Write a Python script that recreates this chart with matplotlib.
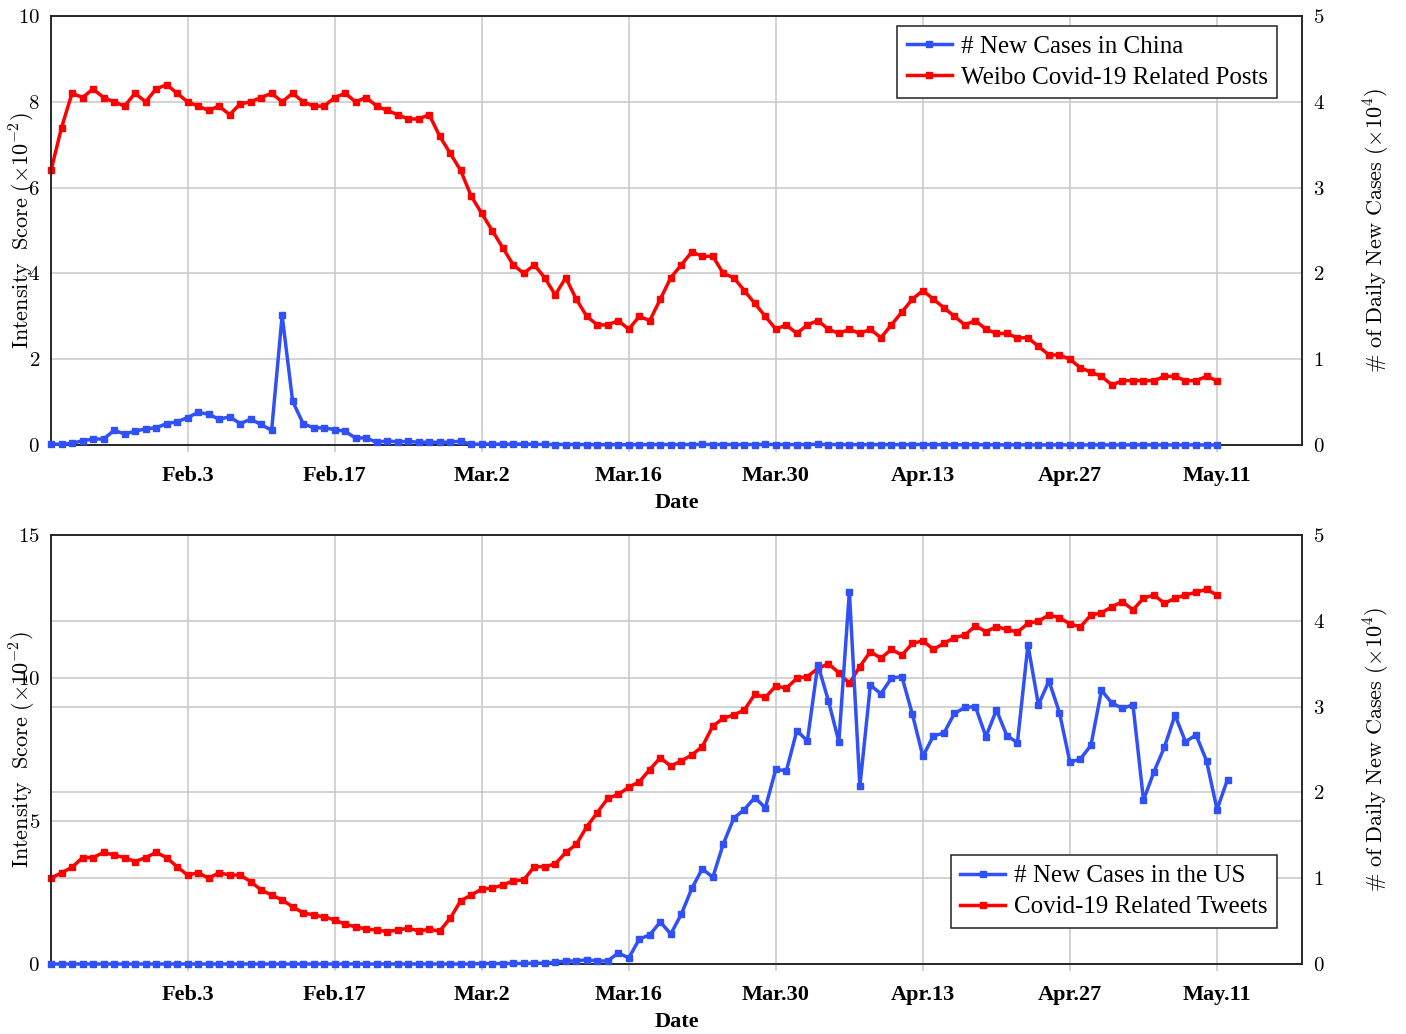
import numpy as np
import pandas as pd
import matplotlib
matplotlib.use("Agg")
import matplotlib.pyplot as plt
from matplotlib.ticker import FuncFormatter

plt.rcParams["font.family"] = "serif"
plt.rcParams["font.serif"] = ["Liberation Serif", "DejaVu Serif"]
plt.rcParams["mathtext.fontset"] = "cm"

# ============================================================
# DATA (one value per day, starting Jan 21)
# ============================================================
start = pd.Timestamp("2020-01-21")

# Weibo intensity score (x1e-2), Jan 21 - May 11
weibo_posts = [
    6.4, 7.4, 8.2, 8.1, 8.3, 8.1, 8.0, 7.9, 8.2, 8.0, 8.3, 8.4, 8.2, 8.0,
    7.9, 7.8, 7.9, 7.7, 7.95, 8.0, 8.1, 8.2, 8.0, 8.2, 8.0, 7.9, 7.9, 8.1,
    8.2, 8.0, 8.1, 7.9, 7.8, 7.7, 7.6, 7.6, 7.7, 7.2, 6.8, 6.4, 5.8, 5.4,
    5.0, 4.6, 4.2, 4.0, 4.2, 3.9, 3.5, 3.9, 3.4, 3.0, 2.8, 2.8, 2.9, 2.7,
    3.0, 2.9, 3.4, 3.9, 4.2, 4.5, 4.4, 4.4, 4.0, 3.9, 3.6, 3.3, 3.0, 2.7,
    2.8, 2.6, 2.8, 2.9, 2.7, 2.6, 2.7, 2.6, 2.7, 2.5, 2.8, 3.1, 3.4, 3.6,
    3.4, 3.2, 3.0, 2.8, 2.9, 2.7, 2.6, 2.6, 2.5, 2.5, 2.3, 2.1, 2.1, 2.0,
    1.8, 1.7, 1.6, 1.4, 1.5, 1.5, 1.5, 1.5, 1.6, 1.6, 1.5, 1.5, 1.6, 1.5,
]

# new cases in China (x1e4), Jan 21 - May 11
china_cases = [
    0.01, 0.01, 0.02, 0.05, 0.07, 0.07, 0.17, 0.13, 0.16, 0.19, 0.20, 0.25,
    0.27, 0.32, 0.38, 0.36, 0.30, 0.33, 0.25, 0.30, 0.24, 0.17, 1.51, 0.51,
    0.25, 0.20, 0.20, 0.18, 0.16, 0.08, 0.085, 0.03, 0.05, 0.035, 0.045,
    0.03, 0.035, 0.03, 0.035, 0.045, 0.01, 0.01,
    0.012, 0.01, 0.01, 0.012, 0.008, 0.008, 0.006, 0.006, 0.005, 0.005,
    0.004, 0.005, 0.004, 0.003, 0.004, 0.005, 0.006, 0.005, 0.005, 0.006,
    0.007, 0.006, 0.006, 0.005, 0.005, 0.006, 0.007, 0.006, 0.006, 0.005,
    0.006, 0.008, 0.006, 0.005, 0.005, 0.004, 0.004, 0.005, 0.004, 0.004,
    0.005, 0.006, 0.005, 0.004, 0.003, 0.003, 0.003, 0.002, 0.002, 0.002,
    0.002, 0.002, 0.001, 0.001, 0.002, 0.001, 0.001, 0.001, 0.001, 0.001,
    0.001, 0.001, 0.002, 0.001, 0.001, 0.001, 0.001, 0.002, 0.001, 0.001,
]

# Twitter intensity score (x1e-2), Jan 21 - May 11
twitter_tweets = [
    3.0, 3.19, 3.38, 3.72, 3.72, 3.9, 3.81, 3.72, 3.58, 3.72, 3.9, 3.72,
    3.4, 3.11, 3.19, 3.0, 3.19, 3.11, 3.11, 2.88, 2.59, 2.41, 2.24, 2.0,
    1.79, 1.71, 1.65, 1.54, 1.39, 1.3, 1.22, 1.19, 1.13, 1.19, 1.25, 1.16,
    1.21, 1.15, 1.6, 2.21, 2.41, 2.62, 2.65, 2.76, 2.91, 2.94, 3.4, 3.4,
    3.5, 3.9, 4.18, 4.8, 5.29, 5.79, 5.93, 6.18, 6.37, 6.8, 7.21, 6.92,
    7.1, 7.31, 7.6, 8.32, 8.59, 8.71, 8.88, 9.43, 9.32, 9.72, 9.64, 9.99,
    10.05, 10.33, 10.5, 10.18, 9.81, 10.4, 10.92, 10.69, 11.0, 10.8, 11.21,
    11.3, 11.0, 11.21, 11.41, 11.5, 11.82, 11.62, 11.79, 11.7, 11.6, 11.91,
    11.99, 12.2, 12.11, 11.89, 11.79, 12.2, 12.28, 12.49, 12.67, 12.38,
    12.79, 12.9, 12.61, 12.79, 12.9, 13.0, 13.1, 12.9,
]

# new cases in the US (x1e4), Jan 21 - May 12
us_cases = [0.0] * 41 + [
    0.005, 0.005, 0.005, 0.006, 0.006,
    0.01, 0.01, 0.02, 0.035, 0.035, 0.05, 0.035, 0.035, 0.13, 0.07, 0.29,
    0.34, 0.49, 0.35, 0.58, 0.88, 1.11, 1.01, 1.40, 1.70, 1.80, 1.94, 1.82,
    2.27, 2.25, 2.72, 2.60, 3.49, 3.07, 2.59, 4.34, 2.07, 3.25, 3.15, 3.33,
    3.35, 2.91, 2.42, 2.66, 2.69, 2.92, 2.99, 3.0, 2.65, 2.96, 2.66, 2.58,
    3.72, 3.02, 3.30, 2.93, 2.35, 2.39, 2.55, 3.19, 3.04, 2.98, 3.02, 1.91,
    2.24, 2.53, 2.90, 2.59, 2.67, 2.37, 1.80, 2.15,
]

tick_dates = ["2020-02-03", "2020-02-17", "2020-03-02", "2020-03-16",
              "2020-03-30", "2020-04-13", "2020-04-27", "2020-05-11"]
tick_labels = ["Feb.3", "Feb.17", "Mar.2", "Mar.16",
               "Mar.30", "Apr.13", "Apr.27", "May.11"]

BLUE = "#3050f8"
RED = "#ff0000"
GRID = "#c8c8c8"

fig = plt.figure(figsize=(14.06, 10.34), dpi=100)

panels = [
    dict(rect=[0.0363, 0.5696, 0.8898, 0.4149], red=weibo_posts, blue=china_cases,
         ymax=10, yticks=[0, 2, 4, 6, 8, 10], extra_grid=[],
         labels=["# New Cases in China", "Weibo Covid-19 Related Posts"],
         legend_loc="upper right", anchor=(0.98, 0.977)),
    dict(rect=[0.0363, 0.0677, 0.8898, 0.4149], red=twitter_tweets, blue=us_cases,
         ymax=15, yticks=[0, 5, 10, 15], extra_grid=[3, 6, 9, 12],
         labels=["# New Cases in the US", "Covid-19 Related Tweets"],
         legend_loc="lower right", anchor=(0.98, 0.084)),
]

fmt = FuncFormatter(lambda v, _: f"${v:g}$")

for p in panels:
    ax = fig.add_axes(p["rect"])
    ax2 = ax.twinx()

    x_red = pd.date_range(start, periods=len(p["red"]), freq="D")
    x_blue = pd.date_range(start, periods=len(p["blue"]), freq="D")

    l_red, = ax.plot(x_red, p["red"], color=RED, lw=2.5, marker="s", ms=4.2,
                     clip_on=False, zorder=3)
    l_blue, = ax2.plot(x_blue, p["blue"], color=BLUE, lw=2.5, marker="s", ms=4.2,
                       clip_on=False, zorder=3)

    ax.set_xlim(start, start + pd.Timedelta(days=119.1))
    ax.set_ylim(0, p["ymax"])
    ax2.set_ylim(0, 5)
    ax.set_yticks(p["yticks"])
    ax2.set_yticks([0, 1, 2, 3, 4, 5])
    ax.set_yticks(p["extra_grid"], minor=True)
    ax.yaxis.set_major_formatter(fmt)
    ax2.yaxis.set_major_formatter(fmt)

    ax.set_xticks(pd.to_datetime(tick_dates))
    ax.set_xticklabels(tick_labels, fontsize=16, fontweight="bold")

    ax.grid(True, which="both", color=GRID, lw=1.1)
    ax.set_axisbelow(True)

    ax.tick_params(axis="x", direction="out", length=5, color=GRID, width=1.1, pad=10)
    ax.tick_params(axis="y", which="both", length=0, labelsize=15, pad=8)
    ax2.tick_params(axis="y", length=0, labelsize=15, pad=8)

    for a in (ax, ax2):
        for s in a.spines.values():
            s.set_linewidth(1.1)
            s.set_color("#222222")

    ax.set_xlabel("Date", fontsize=16, fontweight="bold", labelpad=5)
    # label sits over the tick numbers, like the original
    ax.set_ylabel(r"$\mathrm{Intensity\ \ Score}\ (\times10^{-2})$", fontsize=16)
    ax.yaxis.set_label_coords(-0.0105, 0.5)
    ax2.set_ylabel(r"$\#\ \mathrm{of\ Daily\ New\ Cases}\ (\times10^{4})$", fontsize=16)
    ax2.yaxis.set_label_coords(1.048, 0.5)

    leg = ax2.legend([l_blue, l_red], p["labels"], loc=p["legend_loc"],
                     bbox_to_anchor=p["anchor"], fontsize=18, frameon=True,
                     fancybox=False, framealpha=1, edgecolor="#222222",
                     handlelength=1.8, borderpad=0.38, labelspacing=0.34,
                     handletextpad=0.35, borderaxespad=0)
    leg.get_frame().set_linewidth(1.1)

fig.savefig("out.png", dpi=100)
